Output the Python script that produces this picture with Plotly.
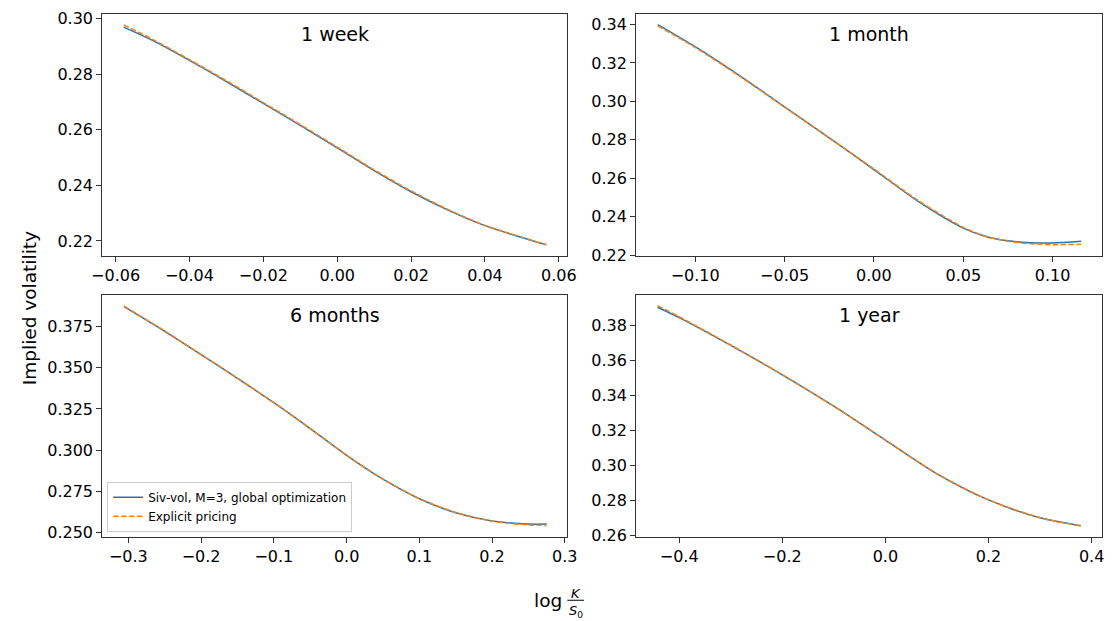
import plotly.graph_objects as go

W, H = 1119, 621

# ---------------- data ----------------
panel_titles = ["1 week", "1 month", "6 months", "1 year"]
series_names = ["Siv-vol, M=3, global optimization", "Explicit pricing"]

x_week = [-0.0578, -0.05, -0.04, -0.03, -0.02, -0.01, 0.0, 0.01, 0.02, 0.03, 0.04, 0.05, 0.0566]
siv_week = [0.2970, 0.2922, 0.2850, 0.2774, 0.2695, 0.2616, 0.2535, 0.2453, 0.2377, 0.2311, 0.2255, 0.2212, 0.2186]
exp_week = [0.2978, 0.2926, 0.2853, 0.2777, 0.2698, 0.2619, 0.2538, 0.2456, 0.2380, 0.2313, 0.2256, 0.2213, 0.2186]

x_month = [-0.121, -0.10, -0.075, -0.05, -0.025, 0.0, 0.025, 0.05, 0.0625, 0.075, 0.0875, 0.10, 0.116]
siv_month = [0.3400, 0.3285, 0.3133, 0.2972, 0.2810, 0.2645, 0.2478, 0.2340, 0.2297, 0.2274, 0.2264, 0.2263, 0.2272]
exp_month = [0.3393, 0.3281, 0.3130, 0.2970, 0.2810, 0.2648, 0.2483, 0.2344, 0.2298, 0.2272, 0.2259, 0.2254, 0.2256]

x_6m = [-0.306, -0.25, -0.2, -0.15, -0.1, -0.05, 0.0, 0.05, 0.1, 0.15, 0.2, 0.25, 0.275]
siv_6m = [0.3872, 0.3722, 0.3580, 0.3436, 0.3288, 0.3131, 0.2968, 0.2823, 0.2704, 0.2619, 0.2569, 0.2550, 0.2550]
exp_6m = [0.3875, 0.3724, 0.3581, 0.3437, 0.3288, 0.3131, 0.2968, 0.2824, 0.2705, 0.2621, 0.2568, 0.2545, 0.2542]

x_1y = [-0.442, -0.4, -0.3, -0.2, -0.1, 0.0, 0.1, 0.2, 0.3, 0.379]
siv_1y = [0.3902, 0.3843, 0.3685, 0.3517, 0.3338, 0.3145, 0.2953, 0.2804, 0.2702, 0.2657]
exp_1y = [0.3911, 0.3848, 0.3687, 0.3518, 0.3338, 0.3145, 0.2953, 0.2805, 0.2703, 0.2656]

# tick values / labels
xt_week = [-0.06, -0.04, -0.02, 0.0, 0.02, 0.04, 0.06]
xl_week = ["\u22120.06", "\u22120.04", "\u22120.02", "0.00", "0.02", "0.04", "0.06"]
yt_week = [0.22, 0.24, 0.26, 0.28, 0.30]
yl_week = ["0.22", "0.24", "0.26", "0.28", "0.30"]

xt_month = [-0.10, -0.05, 0.0, 0.05, 0.10]
xl_month = ["\u22120.10", "\u22120.05", "0.00", "0.05", "0.10"]
yt_month = [0.22, 0.24, 0.26, 0.28, 0.30, 0.32, 0.34]
yl_month = ["0.22", "0.24", "0.26", "0.28", "0.30", "0.32", "0.34"]

xt_6m = [-0.3, -0.2, -0.1, 0.0, 0.1, 0.2, 0.3]
xl_6m = ["\u22120.3", "\u22120.2", "\u22120.1", "0.0", "0.1", "0.2", "0.3"]
yt_6m = [0.250, 0.275, 0.300, 0.325, 0.350, 0.375]
yl_6m = ["0.250", "0.275", "0.300", "0.325", "0.350", "0.375"]

xt_1y = [-0.4, -0.2, 0.0, 0.2, 0.4]
xl_1y = ["\u22120.4", "\u22120.2", "0.0", "0.2", "0.4"]
yt_1y = [0.26, 0.28, 0.30, 0.32, 0.34, 0.36, 0.38]
yl_1y = ["0.26", "0.28", "0.30", "0.32", "0.34", "0.36", "0.38"]

# axis ranges (matplotlib-like 5% margins)
xr_week, yr_week = [-0.0636, 0.0623], [0.2147, 0.3018]
xr_month, yr_month = [-0.1331, 0.1277], [0.2197, 0.3456]
xr_6m, yr_6m = [-0.3359, 0.3035], [0.2474, 0.3944]
xr_1y, yr_1y = [-0.4836, 0.4204], [0.2595, 0.3973]

# ---------------- layout geometry (pixels) ----------------
def px(x):
    return x / W

def py(y):
    return 1 - y / H

col_dom = [[px(93), px(567)], [px(637), px(1112)]]
row_dom = [[py(257), py(10)], [py(544), py(297)]]

BLUE = "#1f77b4"
ORANGE = "#ff7f0e"
FONT = "DejaVu Sans"

fig = go.Figure()

panels = [
    (x_week, siv_week, exp_week, xt_week, xl_week, yt_week, yl_week, xr_week, yr_week, 0, 0),
    (x_month, siv_month, exp_month, xt_month, xl_month, yt_month, yl_month, xr_month, yr_month, 1, 0),
    (x_6m, siv_6m, exp_6m, xt_6m, xl_6m, yt_6m, yl_6m, xr_6m, yr_6m, 0, 1),
    (x_1y, siv_1y, exp_1y, xt_1y, xl_1y, yt_1y, yl_1y, xr_1y, yr_1y, 1, 1),
]

axis_common = dict(
    showline=True, mirror=True, linecolor="#333333", linewidth=1,
    ticks="outside", ticklen=5, tickwidth=1, tickcolor="#333333",
    showgrid=False, zeroline=False,
    tickfont=dict(family=FONT, size=16, color="black"),
)

for i, (xs, s1, s2, xt, xl, yt, yl, xr, yr, c, r) in enumerate(panels):
    k = "" if i == 0 else str(i + 1)
    show_leg = (i == 2)
    fig.add_trace(go.Scatter(
        x=xs, y=s1, mode="lines", name=series_names[0],
        line=dict(color=BLUE, width=1.5, shape="spline", smoothing=0.8),
        xaxis="x" + k, yaxis="y" + k, showlegend=show_leg,
    ))
    fig.add_trace(go.Scatter(
        x=xs, y=s2, mode="lines", name=series_names[1],
        line=dict(color=ORANGE, width=1.5, dash="5.5px,2.4px", shape="spline", smoothing=0.8),
        xaxis="x" + k, yaxis="y" + k, showlegend=show_leg,
    ))
    fig.update_layout(**{
        "xaxis" + k: dict(domain=col_dom[c], anchor="y" + k, range=xr,
                          tickvals=xt, ticktext=xl, **axis_common),
        "yaxis" + k: dict(domain=row_dom[r], anchor="x" + k, range=yr,
                          tickvals=yt, ticktext=yl, **axis_common),
    })
    # panel title inside the axes
    top_px = 10 if r == 0 else 297
    fig.add_annotation(
        text=panel_titles[i], xref="paper", yref="paper",
        x=(col_dom[c][0] + col_dom[c][1]) / 2, y=py(top_px + 20.5),
        xanchor="center", yanchor="middle", showarrow=False,
        font=dict(family=FONT, size=19, color="black"),
    )

# y-axis label
fig.add_annotation(
    text="Implied volatility", xref="paper", yref="paper",
    x=px(18.5), y=py(310.5), xanchor="center", yanchor="middle",
    textangle=-90, showarrow=False,
    font=dict(family=FONT, size=18.5, color="black"),
)

# x-axis label: log K/S0
fig.add_annotation(
    text="log", xref="paper", yref="paper",
    x=px(564), y=py(609), xanchor="right", yanchor="middle",
    showarrow=False, font=dict(family=FONT, size=18.5, color="black"),
)
fig.add_annotation(
    text="<i>K</i>", xref="paper", yref="paper",
    x=px(575.5), y=py(602), xanchor="center", yanchor="middle",
    showarrow=False, font=dict(family=FONT, size=13, color="black"),
)
fig.add_shape(
    type="line", xref="paper", yref="paper",
    x0=px(567), x1=px(584), y0=py(609), y1=py(609),
    line=dict(color="black", width=1),
)
fig.add_annotation(
    text="<i>S</i><sub>0</sub>", xref="paper", yref="paper",
    x=px(575.5), y=py(609.5), xanchor="center", yanchor="top",
    showarrow=False, font=dict(family=FONT, size=13, color="black"),
)

fig.update_layout(
    width=W, height=H,
    margin=dict(l=0, r=0, t=0, b=0),
    paper_bgcolor="white", plot_bgcolor="white",
    font=dict(family=FONT, color="black"),
    legend=dict(
        x=px(98), y=py(539), xanchor="left", yanchor="bottom",
        bgcolor="rgba(255,255,255,0.8)", bordercolor="#cccccc", borderwidth=1,
        font=dict(family=FONT, size=12, color="black"),
        itemwidth=30, tracegroupgap=0,
    ),
)

fig.write_html("out.html", config={"displayModeBar": False},
               post_script="document.body.style.margin='0';")
